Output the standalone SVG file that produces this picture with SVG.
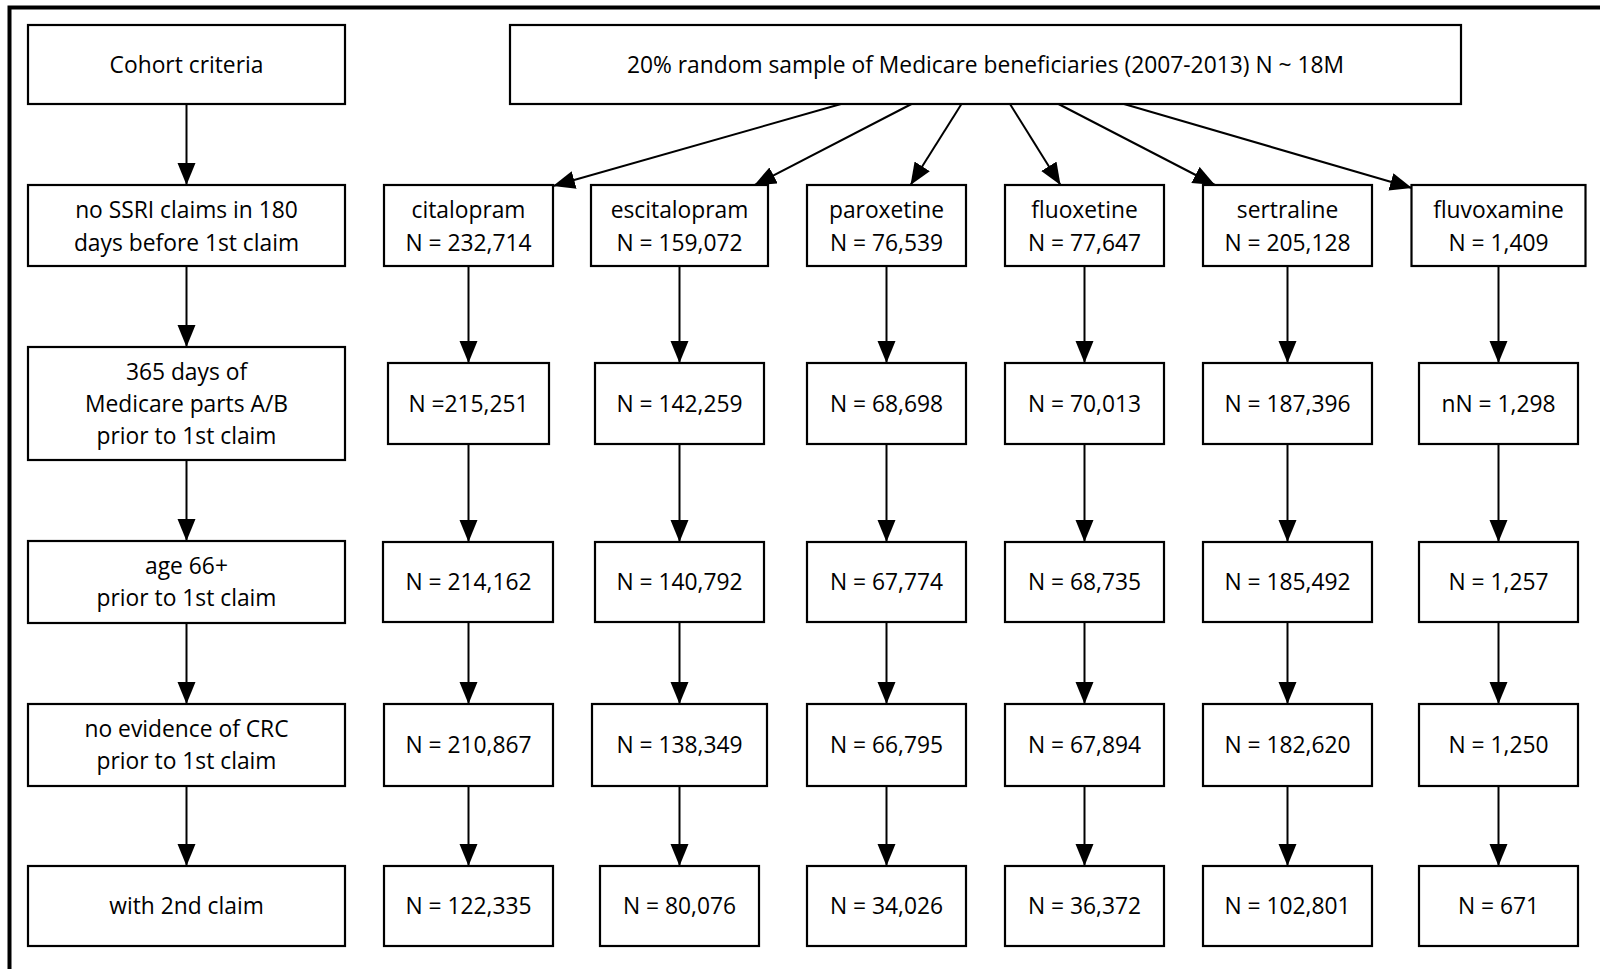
<svg xmlns="http://www.w3.org/2000/svg" width="1600" height="969" viewBox="0 0 1600 969">
  <style>
    .box { fill: #ffffff; stroke: #000000; stroke-width: 2.2; }
    .lbl { font-family: "Open Sans", "Liberation Sans", sans-serif; font-size: 22.8px; fill: #000000; text-anchor: middle; }
    .edge { fill: none; stroke: #000000; stroke-width: 2; }
    .frame { fill: none; stroke: #000000; stroke-width: 4; }
  </style>
  <defs>
    <marker id="arrow" markerUnits="userSpaceOnUse" markerWidth="24" markerHeight="20" refX="22" refY="9" orient="auto">
      <path d="M0,0 L22,9 L0,18 Z" fill="#000000"/>
    </marker>
  </defs>

  <rect x="0" y="0" width="1600" height="969" fill="#ffffff"/>
  <!-- outer frame (runs past the right and bottom edges) -->
  <rect class="frame" x="9.5" y="7.5" width="1700" height="1100"/>

  <!-- connectors -->
  <g id="connectors">
    <!-- cohort criteria column -->
    <path class="edge" marker-end="url(#arrow)" d="M186.5,104 L186.5,185"/>
    <path class="edge" marker-end="url(#arrow)" d="M186.5,266 L186.5,347"/>
    <path class="edge" marker-end="url(#arrow)" d="M186.5,460 L186.5,541"/>
    <path class="edge" marker-end="url(#arrow)" d="M186.5,623 L186.5,704"/>
    <path class="edge" marker-end="url(#arrow)" d="M186.5,786 L186.5,866"/>
    <!-- sample to each SSRI -->
    <path class="edge" marker-end="url(#arrow)" d="M841,104 L553,186"/>
    <path class="edge" marker-end="url(#arrow)" d="M911.5,104 L754,185.5"/>
    <path class="edge" marker-end="url(#arrow)" d="M961.5,104 L910.5,185"/>
    <path class="edge" marker-end="url(#arrow)" d="M1010,104 L1060.5,185"/>
    <path class="edge" marker-end="url(#arrow)" d="M1058.5,104 L1215,185"/>
    <path class="edge" marker-end="url(#arrow)" d="M1124,104 L1412,188"/>
    <!-- citalopram -->
    <path class="edge" marker-end="url(#arrow)" d="M468.5,266 L468.5,363"/>
    <path class="edge" marker-end="url(#arrow)" d="M468.5,444 L468.5,542"/>
    <path class="edge" marker-end="url(#arrow)" d="M468.5,622 L468.5,704"/>
    <path class="edge" marker-end="url(#arrow)" d="M468.5,786 L468.5,866"/>
    <!-- escitalopram -->
    <path class="edge" marker-end="url(#arrow)" d="M679.5,266 L679.5,363"/>
    <path class="edge" marker-end="url(#arrow)" d="M679.5,444 L679.5,542"/>
    <path class="edge" marker-end="url(#arrow)" d="M679.5,622 L679.5,704"/>
    <path class="edge" marker-end="url(#arrow)" d="M679.5,786 L679.5,866"/>
    <!-- paroxetine -->
    <path class="edge" marker-end="url(#arrow)" d="M886.5,266 L886.5,363"/>
    <path class="edge" marker-end="url(#arrow)" d="M886.5,444 L886.5,542"/>
    <path class="edge" marker-end="url(#arrow)" d="M886.5,622 L886.5,704"/>
    <path class="edge" marker-end="url(#arrow)" d="M886.5,786 L886.5,866"/>
    <!-- fluoxetine -->
    <path class="edge" marker-end="url(#arrow)" d="M1084.5,266 L1084.5,363"/>
    <path class="edge" marker-end="url(#arrow)" d="M1084.5,444 L1084.5,542"/>
    <path class="edge" marker-end="url(#arrow)" d="M1084.5,622 L1084.5,704"/>
    <path class="edge" marker-end="url(#arrow)" d="M1084.5,786 L1084.5,866"/>
    <!-- sertraline -->
    <path class="edge" marker-end="url(#arrow)" d="M1287.5,266 L1287.5,363"/>
    <path class="edge" marker-end="url(#arrow)" d="M1287.5,444 L1287.5,542"/>
    <path class="edge" marker-end="url(#arrow)" d="M1287.5,622 L1287.5,704"/>
    <path class="edge" marker-end="url(#arrow)" d="M1287.5,786 L1287.5,866"/>
    <!-- fluvoxamine -->
    <path class="edge" marker-end="url(#arrow)" d="M1498.5,266 L1498.5,363"/>
    <path class="edge" marker-end="url(#arrow)" d="M1498.5,444 L1498.5,542"/>
    <path class="edge" marker-end="url(#arrow)" d="M1498.5,622 L1498.5,704"/>
    <path class="edge" marker-end="url(#arrow)" d="M1498.5,786 L1498.5,866"/>
  </g>

  <!-- cohort criteria column -->
  <g id="cohort-criteria">
    <rect class="box" x="28" y="25" width="317" height="79"/>
    <text class="lbl" x="186.5" y="72.5">Cohort criteria</text>
  </g>
  <g id="no-ssri">
    <rect class="box" x="28" y="185" width="317" height="81"/>
    <text class="lbl" x="186.5" y="218">no SSRI claims in 180</text>
    <text class="lbl" x="186.5" y="250.5">days before 1st claim</text>
  </g>
  <g id="medicare-ab">
    <rect class="box" x="28" y="347" width="317" height="113"/>
    <text class="lbl" x="186.5" y="379.5">365 days of</text>
    <text class="lbl" x="186.5" y="411.5">Medicare parts A/B</text>
    <text class="lbl" x="186.5" y="443.5">prior to 1st claim</text>
  </g>
  <g id="age">
    <rect class="box" x="28" y="541" width="317" height="82"/>
    <text class="lbl" x="186.5" y="574">age 66+</text>
    <text class="lbl" x="186.5" y="606">prior to 1st claim</text>
  </g>
  <g id="no-crc">
    <rect class="box" x="28" y="704" width="317" height="82"/>
    <text class="lbl" x="186.5" y="737">no evidence of CRC</text>
    <text class="lbl" x="186.5" y="769">prior to 1st claim</text>
  </g>
  <g id="second-claim">
    <rect class="box" x="28" y="866" width="317" height="80"/>
    <text class="lbl" x="186.5" y="914">with 2nd claim</text>
  </g>

  <!-- source population -->
  <g id="sample">
    <rect class="box" x="510" y="25" width="951" height="79"/>
    <text class="lbl" x="985.5" y="72.5">20% random sample of Medicare beneficiaries (2007-2013) N ~ 18M</text>
  </g>

  <!-- citalopram -->
  <g id="citalopram">
    <rect class="box" x="384" y="185" width="169" height="81"/>
    <text class="lbl" x="468.5" y="218">citalopram</text>
    <text class="lbl" x="468.5" y="250.5">N = 232,714</text>
  </g>
  <g id="citalopram-2">
    <rect class="box" x="388" y="363" width="161" height="81"/>
    <text class="lbl" x="468.5" y="411.5">N =215,251</text>
  </g>
  <g id="citalopram-3">
    <rect class="box" x="383" y="542" width="170" height="80"/>
    <text class="lbl" x="468.5" y="590">N = 214,162</text>
  </g>
  <g id="citalopram-4">
    <rect class="box" x="384" y="704" width="169" height="82"/>
    <text class="lbl" x="468.5" y="753">N = 210,867</text>
  </g>
  <g id="citalopram-5">
    <rect class="box" x="384" y="866" width="169" height="80"/>
    <text class="lbl" x="468.5" y="914">N = 122,335</text>
  </g>

  <!-- escitalopram -->
  <g id="escitalopram">
    <rect class="box" x="591" y="185" width="177" height="81"/>
    <text class="lbl" x="679.5" y="218">escitalopram</text>
    <text class="lbl" x="679.5" y="250.5">N = 159,072</text>
  </g>
  <g id="escitalopram-2">
    <rect class="box" x="595" y="363" width="169" height="81"/>
    <text class="lbl" x="679.5" y="411.5">N = 142,259</text>
  </g>
  <g id="escitalopram-3">
    <rect class="box" x="595" y="542" width="169" height="80"/>
    <text class="lbl" x="679.5" y="590">N = 140,792</text>
  </g>
  <g id="escitalopram-4">
    <rect class="box" x="592" y="704" width="175" height="82"/>
    <text class="lbl" x="679.5" y="753">N = 138,349</text>
  </g>
  <g id="escitalopram-5">
    <rect class="box" x="600" y="866" width="159" height="80"/>
    <text class="lbl" x="679.5" y="914">N = 80,076</text>
  </g>

  <!-- paroxetine -->
  <g id="paroxetine">
    <rect class="box" x="807" y="185" width="159" height="81"/>
    <text class="lbl" x="886.5" y="218">paroxetine</text>
    <text class="lbl" x="886.5" y="250.5">N = 76,539</text>
  </g>
  <g id="paroxetine-2">
    <rect class="box" x="807" y="363" width="159" height="81"/>
    <text class="lbl" x="886.5" y="411.5">N = 68,698</text>
  </g>
  <g id="paroxetine-3">
    <rect class="box" x="807" y="542" width="159" height="80"/>
    <text class="lbl" x="886.5" y="590">N = 67,774</text>
  </g>
  <g id="paroxetine-4">
    <rect class="box" x="807" y="704" width="159" height="82"/>
    <text class="lbl" x="886.5" y="753">N = 66,795</text>
  </g>
  <g id="paroxetine-5">
    <rect class="box" x="807" y="866" width="159" height="80"/>
    <text class="lbl" x="886.5" y="914">N = 34,026</text>
  </g>

  <!-- fluoxetine -->
  <g id="fluoxetine">
    <rect class="box" x="1005" y="185" width="159" height="81"/>
    <text class="lbl" x="1084.5" y="218">fluoxetine</text>
    <text class="lbl" x="1084.5" y="250.5">N = 77,647</text>
  </g>
  <g id="fluoxetine-2">
    <rect class="box" x="1005" y="363" width="159" height="81"/>
    <text class="lbl" x="1084.5" y="411.5">N = 70,013</text>
  </g>
  <g id="fluoxetine-3">
    <rect class="box" x="1005" y="542" width="159" height="80"/>
    <text class="lbl" x="1084.5" y="590">N = 68,735</text>
  </g>
  <g id="fluoxetine-4">
    <rect class="box" x="1005" y="704" width="159" height="82"/>
    <text class="lbl" x="1084.5" y="753">N = 67,894</text>
  </g>
  <g id="fluoxetine-5">
    <rect class="box" x="1005" y="866" width="159" height="80"/>
    <text class="lbl" x="1084.5" y="914">N = 36,372</text>
  </g>

  <!-- sertraline -->
  <g id="sertraline">
    <rect class="box" x="1203" y="185" width="169" height="81"/>
    <text class="lbl" x="1287.5" y="218">sertraline</text>
    <text class="lbl" x="1287.5" y="250.5">N = 205,128</text>
  </g>
  <g id="sertraline-2">
    <rect class="box" x="1203" y="363" width="169" height="81"/>
    <text class="lbl" x="1287.5" y="411.5">N = 187,396</text>
  </g>
  <g id="sertraline-3">
    <rect class="box" x="1203" y="542" width="169" height="80"/>
    <text class="lbl" x="1287.5" y="590">N = 185,492</text>
  </g>
  <g id="sertraline-4">
    <rect class="box" x="1203" y="704" width="169" height="82"/>
    <text class="lbl" x="1287.5" y="753">N = 182,620</text>
  </g>
  <g id="sertraline-5">
    <rect class="box" x="1203" y="866" width="169" height="80"/>
    <text class="lbl" x="1287.5" y="914">N = 102,801</text>
  </g>

  <!-- fluvoxamine -->
  <g id="fluvoxamine">
    <rect class="box" x="1411.5" y="185" width="174" height="81"/>
    <text class="lbl" x="1498.5" y="218">fluvoxamine</text>
    <text class="lbl" x="1498.5" y="250.5">N = 1,409</text>
  </g>
  <g id="fluvoxamine-2">
    <rect class="box" x="1419" y="363" width="159" height="81"/>
    <text class="lbl" x="1498.5" y="411.5">nN = 1,298</text>
  </g>
  <g id="fluvoxamine-3">
    <rect class="box" x="1419" y="542" width="159" height="80"/>
    <text class="lbl" x="1498.5" y="590">N = 1,257</text>
  </g>
  <g id="fluvoxamine-4">
    <rect class="box" x="1419" y="704" width="159" height="82"/>
    <text class="lbl" x="1498.5" y="753">N = 1,250</text>
  </g>
  <g id="fluvoxamine-5">
    <rect class="box" x="1419" y="866" width="159" height="80"/>
    <text class="lbl" x="1498.5" y="914">N = 671</text>
  </g>
</svg>
